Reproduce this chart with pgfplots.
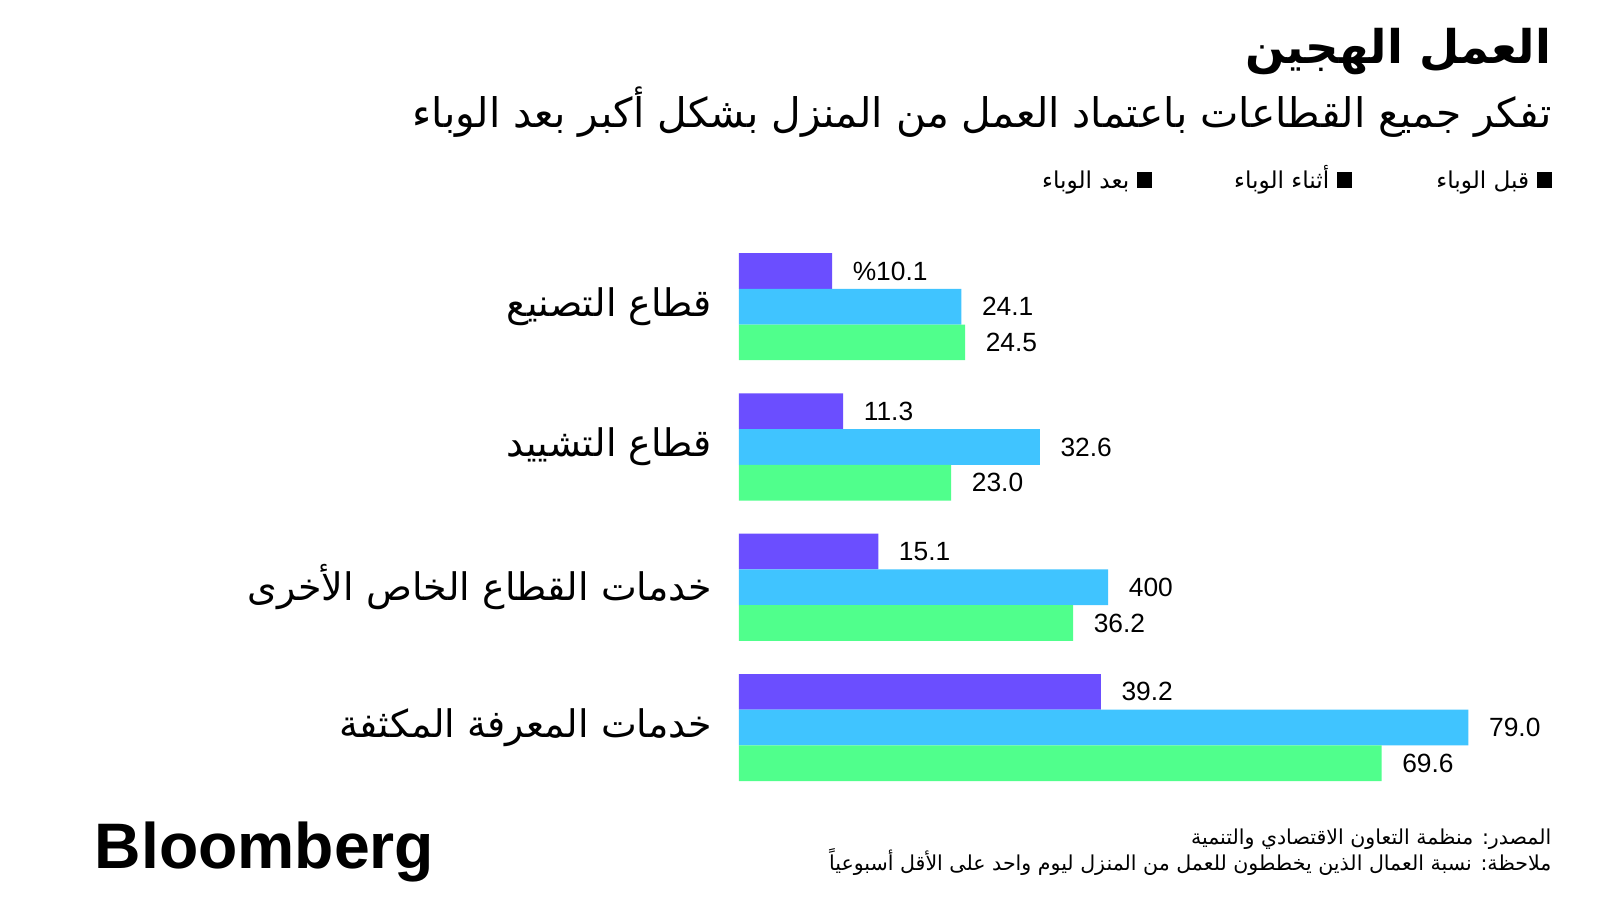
\documentclass[border=0pt]{standalone}
\usepackage{fontspec}
\setmainfont{Liberation Sans}
\newfontfamily\arabicfont[Script=Arabic]{DejaVu Sans}
\usepackage{pgfplots}
\pgfplotsset{compat=1.18}
\TeXXeTstate=1
\definecolor{prepurple}{RGB}{107,78,255}
\definecolor{durblue}{RGB}{64,196,255}
\definecolor{postgreen}{RGB}{80,255,140}

\begin{document}
\begin{tikzpicture}[x=1cm,y=1cm]
\path[fill=white] (0,0) rectangle (16,9);

% title and subtitle
\node[anchor=base east, inner sep=0pt, font=\arabicfont\bfseries\fontsize{13.2}{16}\selectfont]
  at (15.52,8.36) {\beginR العمل الهجين\endR};
\node[anchor=base east, inner sep=0pt, font=\arabicfont\fontsize{11.6}{13}\selectfont]
  at (15.52,7.72) {\beginR تفكر جميع القطاعات باعتماد العمل من المنزل بشكل أكبر بعد الوباء\endR};

% legend
\foreach \xr/\lab in {15.52/قبل الوباء, 13.52/أثناء الوباء, 11.52/بعد الوباء}{
  \fill[black] (\xr-0.153,7.12) rectangle (\xr,7.275);
  \node[anchor=base east, inner sep=0pt, font=\arabicfont\fontsize{6.6}{8}\selectfont]
    at (\xr-0.22,7.12) {\beginR\lab\endR};
}

\begin{axis}[
  at={(7.388cm,1.023cm)}, anchor=south west,
  scale only axis, width=7.296cm, height=5.612cm,
  xmin=0, xmax=79, ymin=-0.5, ymax=3.5,
  clip=false,
  axis line style={draw=none}, tick style={draw=none},
  xtick=\empty,
  ytick={0,1,2,3},
  yticklabels={
    {\beginR خدمات المعرفة المكثفة\endR},
    {\beginR خدمات القطاع الخاص الأخرى\endR},
    {\beginR قطاع التشييد\endR},
    {\beginR قطاع التصنيع\endR}},
  yticklabel style={anchor=east, inner sep=0pt, xshift=-0.11cm,
    font=\arabicfont\fontsize{10.8}{12}\selectfont},
  xbar, bar width=0.357cm,
  point meta=explicit symbolic,
  nodes near coords={\pgfplotspointmeta},
  nodes near coords style={anchor=west, inner sep=0pt, xshift=0.2cm,
    font=\fontsize{7.5}{8}\selectfont, text=black},
]
\addplot[fill=prepurple, draw=none, bar shift=0.357cm] coordinates {
  (10.1,3) [\%10.1]
  (11.3,2) [11.3]
  (15.1,1) [15.1]
  (39.2,0) [39.2]
};
\addplot[fill=durblue, draw=none, bar shift=0cm] coordinates {
  (24.1,3) [24.1]
  (32.6,2) [32.6]
  (40.0,1) [400]
  (79.0,0) [79.0]
};
\addplot[fill=postgreen, draw=none, bar shift=-0.357cm] coordinates {
  (24.5,3) [24.5]
  (23.0,2) [23.0]
  (36.2,1) [36.2]
  (69.6,0) [69.6]
};
\end{axis}

% footer
\node[anchor=base west, inner sep=0pt, font=\bfseries\fontsize{18.3}{20}\selectfont]
  at (0.94,0.32) {Bloomberg};
\node[anchor=base east, inner sep=0pt, font=\arabicfont\fontsize{5.85}{7}\selectfont]
  at (15.52,0.56) {\beginR المصدر: منظمة التعاون الاقتصادي والتنمية\endR};
\node[anchor=base east, inner sep=0pt, font=\arabicfont\fontsize{5.85}{7}\selectfont]
  at (15.52,0.30) {\beginR ملاحظة: نسبة العمال الذين يخططون للعمل من المنزل ليوم واحد على الأقل أسبوعياً\endR};
\end{tikzpicture}
\end{document}
